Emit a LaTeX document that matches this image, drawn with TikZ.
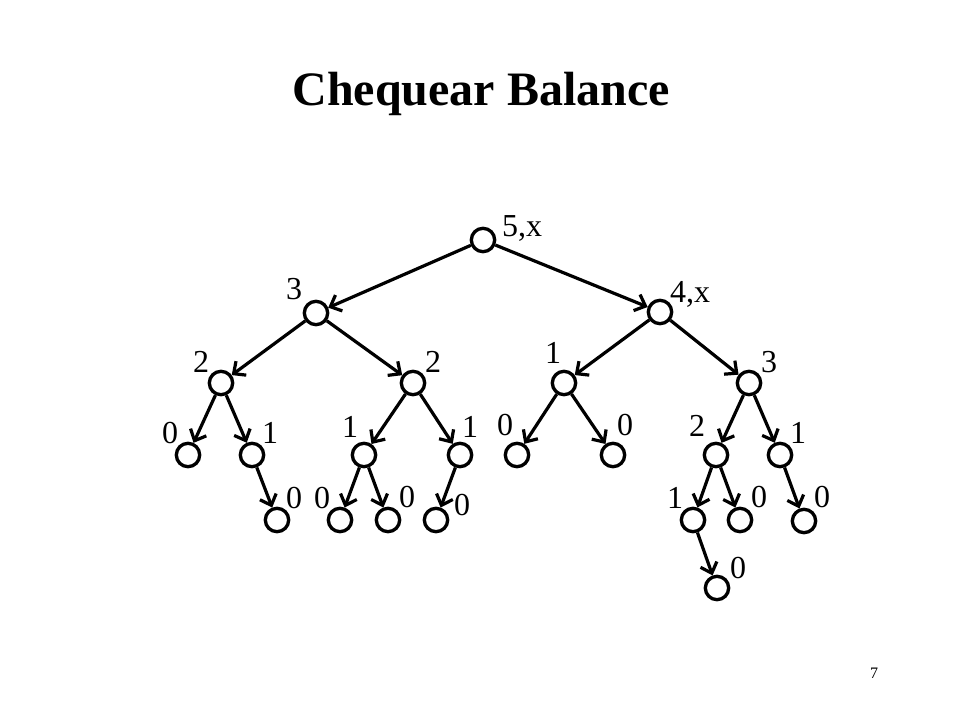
\documentclass[tikz,border=0pt]{standalone}
\usepackage{fontspec}
\setmainfont{Liberation Serif}
\usetikzlibrary{arrows.meta}

\begin{document}
\begin{tikzpicture}[x=0.75pt, y=-0.75pt]
\tikzstyle{vtx} = [circle, draw, line width=2.5pt, minimum size=17.5pt, inner sep=0pt]
\tikzstyle{lbl} = [anchor=base, inner sep=0pt, font=\fontsize{24}{28}\selectfont]
\tikzstyle{arrow} = [line width=2.4pt, -{Straight Barb[length=7pt, width=13pt]}]

\useasboundingbox (0,0) rectangle (960,720);

\node[anchor=base, inner sep=0pt, font=\fontsize{36}{40}\selectfont\bfseries] (title) at (481,106) {Chequear Balance};

\node[vtx] (r) at (483,240) {};
\node[vtx] (a) at (316,313) {};
\node[vtx] (b) at (660,312) {};
\node[vtx] (aa) at (221,383) {};
\node[vtx] (ab) at (413,383) {};
\node[vtx] (ba) at (564,383) {};
\node[vtx] (bb) at (749,383) {};
\node[vtx] (aaa) at (188,455) {};
\node[vtx] (aab) at (252,455) {};
\node[vtx] (aba) at (364,455) {};
\node[vtx] (abb) at (460,455) {};
\node[vtx] (baa) at (517,455) {};
\node[vtx] (bab) at (613,455) {};
\node[vtx] (bba) at (716,455) {};
\node[vtx] (bbb) at (780,455) {};
\node[vtx] (aaba) at (277,520) {};
\node[vtx] (abaa) at (340,520) {};
\node[vtx] (abab) at (388,520) {};
\node[vtx] (abba) at (436,520) {};
\node[vtx] (bbaa) at (693,520) {};
\node[vtx] (bbab) at (740,520) {};
\node[vtx] (bbba) at (804,521) {};
\node[vtx] (bbaaa) at (717,588) {};

\node[lbl] (r-l) at (522,237) {5,x};
\node[lbl] (a-l) at (294,300) {3};
\node[lbl] (b-l) at (690,302) {4,x};
\node[lbl] (aa-l) at (201,372) {2};
\node[lbl] (ab-l) at (433,372) {2};
\node[lbl] (ba-l) at (553,363) {1};
\node[lbl] (bb-l) at (769,372) {3};
\node[lbl] (aaa-l) at (170,443) {0};
\node[lbl] (aab-l) at (270,443) {1};
\node[lbl] (aba-l) at (350,437) {1};
\node[lbl] (abb-l) at (470,437) {1};
\node[lbl] (baa-l) at (505,435) {0};
\node[lbl] (bab-l) at (625,435) {0};
\node[lbl] (bba-l) at (697,436) {2};
\node[lbl] (bbb-l) at (798,443) {1};
\node[lbl] (aaba-l) at (294,508) {0};
\node[lbl] (abaa-l) at (322,508) {0};
\node[lbl] (abab-l) at (407,507) {0};
\node[lbl] (abba-l) at (462,515) {0};
\node[lbl] (bbaa-l) at (675,508) {1};
\node[lbl] (bbab-l) at (759,507) {0};
\node[lbl] (bbba-l) at (822,507) {0};
\node[lbl] (bbaaa-l) at (738,578) {0};

\draw[arrow] (r) -- (a);
\draw[arrow] (r) -- (b);
\draw[arrow] (a) -- (aa);
\draw[arrow] (a) -- (ab);
\draw[arrow] (b) -- (ba);
\draw[arrow] (b) -- (bb);
\draw[arrow] (aa) -- (aaa);
\draw[arrow] (aa) -- (aab);
\draw[arrow] (ab) -- (aba);
\draw[arrow] (ab) -- (abb);
\draw[arrow] (ba) -- (baa);
\draw[arrow] (ba) -- (bab);
\draw[arrow] (bb) -- (bba);
\draw[arrow] (bb) -- (bbb);
\draw[arrow] (aab) -- (aaba);
\draw[arrow] (aba) -- (abaa);
\draw[arrow] (aba) -- (abab);
\draw[arrow] (abb) -- (abba);
\draw[arrow] (bba) -- (bbaa);
\draw[arrow] (bba) -- (bbab);
\draw[arrow] (bbb) -- (bbba);
\draw[arrow] (bbaa) -- (bbaaa);

\node[anchor=base, inner sep=0pt, font=\fontsize{12}{14}\selectfont] (page) at (874,678) {7};
\end{tikzpicture}
\end{document}
